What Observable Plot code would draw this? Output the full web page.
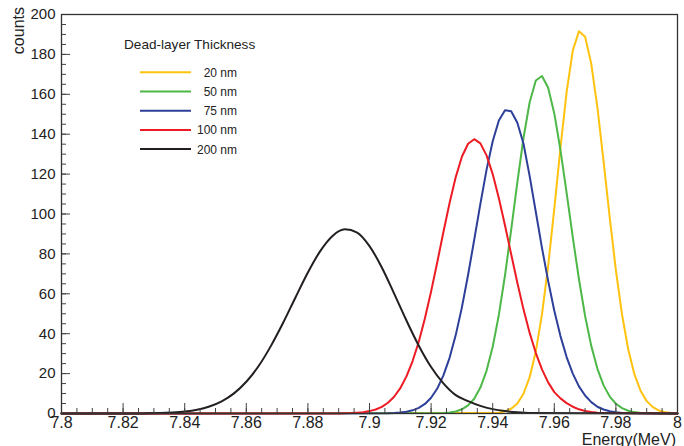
<!DOCTYPE html>
<html><head><meta charset="utf-8">
<script src="https://cdn.jsdelivr.net/npm/d3@7"></script>
<script src="https://cdn.jsdelivr.net/npm/@observablehq/plot@0.6"></script>
<style>body{margin:0;background:#fff} #chart{width:684px;height:446px;}</style>
</head><body><div id="chart"></div>
<script>
// ---- data ----
const thicknesses = ["20 nm", "50 nm", "75 nm", "100 nm", "200 nm"];
const colors = ["#FFC20E", "#4DB848", "#2E3F99", "#ED1C24", "#231F20"];
const binStart = [7.942, 7.924, 7.906, 7.890, 7.824];
const binStep = [0.002, 0.002, 0.002, 0.002, 0.004];
const counts20 = [0.4, 1.1, 2.4, 5.0, 9.9, 18.2, 31.1, 49.7, 73.9, 102.7, 133.2, 161.1, 181.9, 191.6, 188.8, 175.3, 153.3, 126.4, 98.2, 71.8, 49.5, 32.2, 19.7, 11.4, 6.2, 3.2, 1.5, 0.6, 0.2];
const counts50 = [0.2, 0.5, 1.0, 2.1, 4.1, 7.4, 13.0, 21.4, 33.4, 49.4, 69.3, 92.1, 115.9, 138.1, 156.0, 166.9, 169.2, 163.3, 150.4, 132.0, 110.6, 88.4, 67.3, 48.9, 33.9, 22.4, 14.1, 8.5, 4.9, 2.7, 1.4, 0.7, 0.3];
const counts75 = [0.1, 0.2, 0.5, 0.9, 1.6, 2.8, 4.8, 7.9, 12.5, 19.1, 27.9, 39.3, 53.2, 69.4, 87.1, 105.1, 122.1, 136.5, 146.9, 152.0, 151.5, 145.7, 135.2, 119.0, 101.0, 83.0, 66.5, 51.5, 38.8, 28.3, 20.0, 13.6, 9.0, 5.7, 3.4, 2.0, 1.1, 0.6, 0.3];
const counts100 = [0.0, 0.1, 0.2, 0.4, 0.6, 1.2, 2.0, 3.3, 5.4, 8.4, 12.7, 18.6, 26.3, 36.0, 47.7, 61.2, 75.8, 91.0, 105.5, 118.5, 128.7, 135.2, 137.5, 135.4, 129.4, 120.0, 107.9, 94.2, 79.8, 65.5, 52.2, 40.4, 30.3, 22.1, 15.6, 10.7, 7.6, 5.2, 3.4, 2.1, 1.3, 0.7, 0.4, 0.2];
const counts200 = [0.0, 0.1, 0.2, 0.5, 1.0, 1.9, 3.5, 6.1, 10.1, 15.9, 23.8, 33.9, 45.6, 58.3, 70.7, 81.4, 89.0, 92.3, 90.7, 83.9, 73.2, 60.1, 46.6, 34.0, 23.3, 15.1, 9.2, 6.2, 3.8, 2.2, 1.2, 0.6, 0.3];
const xTicks = [7.8, 7.82, 7.84, 7.86, 7.88, 7.9, 7.92, 7.94, 7.96, 7.98, 8.0];
const yTicks = [0, 20, 40, 60, 80, 100, 120, 140, 160, 180, 200];
const xMinorStep = 0.005;
const yMinorStep = 5;
const energyDomain = [7.8, 8.0];
const countsDomain = [0, 200];
const xLabel = "Energy(MeV)";
const yLabel = "counts";
const legendTitle = "Dead-layer Thickness";

// ---- build tables ----
const allCounts = [counts20, counts50, counts75, counts100, counts200];
const seriesData = allCounts.map((arr, s) => {
  const rows = [{series: thicknesses[s], energy: energyDomain[0], counts: 0}];
  arr.forEach((c, i) => rows.push({series: thicknesses[s], energy: binStart[s] + i * binStep[s], counts: c}));
  rows.push({series: thicknesses[s], energy: energyDomain[1], counts: 0});
  return rows;
});
const xMinor = d3.range(0, 41).map(i => +(energyDomain[0] + i * xMinorStep).toFixed(3));
const yMinor = d3.range(0, 201, yMinorStep);
const fmtX = d => String(+d.toFixed(2));

const font = "'Liberation Sans', Arial, Helvetica, sans-serif";
const W = 684, H = 446;
const mL = 61, mR = 7, mT = 14, mB = 33;

const lineMarks = seriesData.map((rows, s) =>
  Plot.line(rows, {x: "energy", y: "counts", stroke: colors[s], strokeWidth: 2,
    curve: binStep[s] > 0.003 ? "monotone-x" : "linear"}));

const plot = Plot.plot({
  width: W, height: H,
  marginLeft: mL, marginRight: mR, marginTop: mT, marginBottom: mB,
  style: {fontFamily: font, fontSize: "15px", background: "#fff", color: "#222"},
  x: {domain: energyDomain, label: null},
  y: {domain: countsDomain, label: null},
  marks: [
    ...lineMarks,
    Plot.axisX(xMinor, {tickSize: -5, tickFormat: () => "", stroke: "#444"}),
    Plot.axisX(xTicks, {tickSize: -10, tickFormat: () => "", stroke: "#444"}),
    Plot.axisX(xTicks, {tickSize: 0, tickPadding: 3, tickFormat: fmtX, fill: "#222", fontSize: 16}),
    Plot.axisY(yMinor, {tickSize: -5, tickFormat: () => "", stroke: "#444"}),
    Plot.axisY(yTicks, {tickSize: -9, tickFormat: () => "", stroke: "#444"}),
    Plot.axisY(yTicks, {tickSize: 0, tickPadding: 6, tickFormat: d => String(d), fill: "#222"}),
    Plot.frame({stroke: "#333", strokeWidth: 1.3})
  ]
});
document.getElementById("chart").appendChild(plot);

// ---- axis titles and legend ----
const svg = d3.select(plot);
svg.append("text").text(yLabel)
  .attr("transform", "translate(24,7) rotate(-90)")
  .attr("text-anchor", "end").attr("font-family", font).attr("font-size", 16).attr("fill", "#222");
svg.append("text").text(xLabel)
  .attr("x", W - mR - 1).attr("y", H - 1)
  .attr("text-anchor", "end").attr("font-family", font).attr("font-size", 16).attr("fill", "#222");

const lg = svg.append("g").attr("font-family", font).attr("fill", "#222");
lg.append("text").text(legendTitle).attr("x", 124).attr("y", 49)
  .attr("text-anchor", "start").attr("font-size", 13.6);
thicknesses.forEach((t, i) => {
  const y = 72.3 + i * 19.2;
  lg.append("line").attr("x1", 140).attr("x2", 191).attr("y1", y).attr("y2", y)
    .attr("stroke", colors[i]).attr("stroke-width", 2);
  lg.append("text").text(t).attr("x", 237).attr("y", y + 4.5)
    .attr("text-anchor", "end").attr("font-size", 12);
});
</script>
</body></html>
